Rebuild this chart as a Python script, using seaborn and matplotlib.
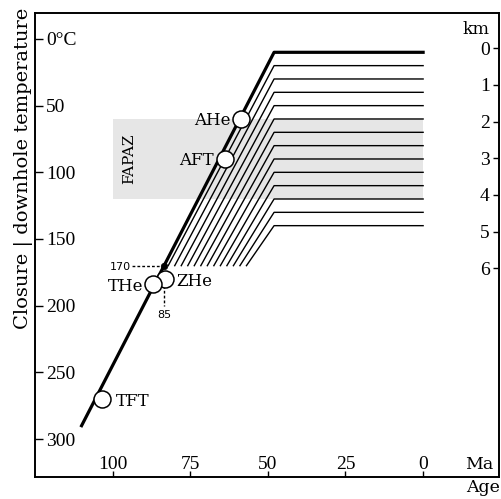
import numpy as np
import pandas as pd
import matplotlib
matplotlib.use("Agg")
import matplotlib.pyplot as plt
import seaborn as sns

# ---------------- data ----------------
path_age = [0, 48, 110]
path_temp = [10, 10, 290]

isotherm_temp = [20, 30, 40, 50, 60, 70, 80, 90, 100, 110, 120, 130, 140]
isotherm_bend_age = 48
isotherm_end_age = [82.1, 80.0, 77.9, 75.8, 73.7, 71.6, 69.5, 67.4, 65.3, 63.2, 61.1, 59.0, 56.9]
isotherm_end_temp = 170

samples = ["AHe", "AFT", "ZHe", "THe", "TFT"]
sample_age = [58.5, 63.8, 83.0, 87.0, 103.5]
sample_temp = [60, 90, 180, 184, 270]

fapaz_age = [100, 0]
fapaz_temp = [60, 120]

inter_age = 83.5
inter_temp = 170
inter_labels = ["170", "85"]

temp_ticks = [0, 50, 100, 150, 200, 250, 300]
temp_ticklabels = ["0°C", "50", "100", "150", "200", "250", "300"]
age_ticks = [100, 75, 50, 25, 0]
age_ticklabels = ["100", "75", "50", "25", "0"]
km_ticks = [0, 1, 2, 3, 4, 5, 6]
km_surface_temp = 7
km_gradient = 27.5

# ---------------- figure ----------------
SERIF = "DejaVu Serif"
NUM = "Liberation Serif"

fig = plt.figure(figsize=(5.01, 4.99), dpi=100)
ax = fig.add_axes([35 / 501, 21.7 / 499, 464.5 / 501, 464.6 / 499])
ax.set_xlim(125, -24.6)
ax.set_ylim(328.7, -19.7)

# FAPAZ band
ax.fill_between(fapaz_age, fapaz_temp[0], fapaz_temp[1], color="#e6e6e6", lw=0, zorder=0)
ax.text(94.8, 90, "FAPAZ", rotation=90, ha="center", va="center",
        fontsize=11, family=SERIF, zorder=1)

# isotherm family
rows = []
for T, a_end in zip(isotherm_temp, isotherm_end_age):
    rows += [dict(line=T, order=0, age=0, temp=T),
             dict(line=T, order=1, age=isotherm_bend_age, temp=T),
             dict(line=T, order=2, age=a_end, temp=isotherm_end_temp)]
iso = pd.DataFrame(rows)
sns.lineplot(data=iso, x="age", y="temp", units="line", estimator=None, sort=False,
             color="black", linewidth=1.0, ax=ax, legend=False, zorder=2)

# main path
path = pd.DataFrame(dict(age=path_age, temp=path_temp))
sns.lineplot(data=path, x="age", y="temp", estimator=None, sort=False,
             color="black", linewidth=2.3, ax=ax, legend=False, zorder=3)

# intersection guides
dash = (0, (2, 1.5))
ax.plot([inter_age, 93.6], [inter_temp, inter_temp], ls=dash, lw=1, color="black", zorder=2)
ax.plot([inter_age, inter_age], [inter_temp, 200], ls=dash, lw=1, color="black", zorder=2)
ax.text(94.2, inter_temp + 1, inter_labels[0], ha="right", va="center",
        fontsize=8, family="DejaVu Sans")
ax.text(inter_age, 203, inter_labels[1], ha="center", va="top",
        fontsize=8, family="DejaVu Sans")

# samples
smp = pd.DataFrame(dict(name=samples, age=sample_age, temp=sample_temp))
sns.scatterplot(data=smp, x="age", y="temp", s=150, color="white", edgecolor="black",
                linewidth=1.1, ax=ax, zorder=5, legend=False)
sns.scatterplot(x=[inter_age], y=[inter_temp], s=22, color="black", edgecolor="black",
                linewidth=0.5, ax=ax, zorder=6, legend=False)

label_off = {"AHe": (-11, "right"), "AFT": (-11, "right"), "ZHe": (11, "left"),
             "THe": (-9.5, "right"), "TFT": (14, "left")}
for n, a, t in zip(samples, sample_age, sample_temp):
    dx, ha = label_off[n]
    ax.annotate(n, xy=(a, t), xytext=(dx, 0), textcoords="offset pixels",
                ha=ha, va="center_baseline", fontsize=12, family=SERIF, zorder=7)

# axes styling
for sp in ax.spines.values():
    sp.set_linewidth(1.2)
ax.set_yticks(temp_ticks)
ax.set_yticklabels(temp_ticklabels)
ax.set_xticks(age_ticks)
ax.set_xticklabels(age_ticklabels)
ax.tick_params(axis="y", direction="in", length=6, width=1, pad=-8, labelsize=14,
               labelfontfamily=NUM)
ax.tick_params(axis="x", direction="in", length=4, width=1, pad=-6, labelsize=14,
               labelfontfamily=NUM)
for lbl in ax.get_yticklabels():
    lbl.set_ha("left")
for lbl in ax.get_xticklabels():
    lbl.set_va("baseline")

ax.set_ylabel("Closure | downhole temperature", fontsize=14, family=SERIF)
ax.yaxis.set_label_coords(-0.004, 0.665)
ax.set_xlabel("Age", loc="right", fontsize=12.5, family=SERIF, labelpad=1)
ax.text(0.956, 0.0172, "Ma", transform=ax.transAxes, ha="center", va="baseline",
        fontsize=12.5, family=SERIF)

# km axis
ax2 = ax.twinx()
ax2.set_ylim((328.7 - km_surface_temp) / km_gradient, (-19.7 - km_surface_temp) / km_gradient)
ax2.set_yticks(km_ticks)
ax2.tick_params(axis="y", direction="in", length=4, width=1, pad=-7, labelsize=14,
                labelfontfamily=NUM)
for lbl in ax2.get_yticklabels():
    lbl.set_ha("right")
for sp in ax2.spines.values():
    sp.set_linewidth(1.2)
ax.text(0.9785, 0.954, "km", transform=ax.transAxes, ha="right", va="baseline",
        fontsize=12.5, family=SERIF)

fig.savefig("out.png", dpi=100)
